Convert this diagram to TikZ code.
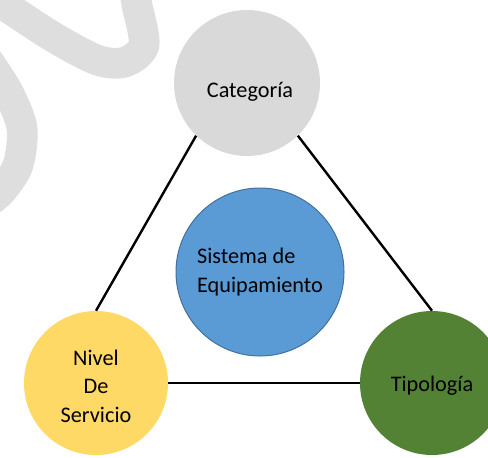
\documentclass[tikz,border=0pt]{standalone}
\usepackage{fontspec}
\setmainfont{Carlito}
\definecolor{catGray}{RGB}{217,217,217}
\definecolor{sisBlue}{RGB}{91,155,213}
\definecolor{sisBorder}{RGB}{65,113,156}
\definecolor{nivYellow}{RGB}{255,217,102}
\definecolor{tipGreen}{RGB}{84,130,53}
\definecolor{markGray}{RGB}{222,222,222}
\tikzset{
  ent/.style={circle, inner sep=0pt, align=center, text=black,
    font=\fontsize{16.7}{21.3}\selectfont},
  link/.style={line width=1.8pt, black},
  mark line/.style={markGray, line width=23pt},
}

\begin{document}
\begin{tikzpicture}[x=0.75pt, y=-0.75pt]
    \useasboundingbox (0,0) rectangle (488,457);
    \clip (0,0) rectangle (488,457);
    % watermark in the corner
    \draw[mark line] plot[smooth] coordinates {(-12,-6) (50,35) (97,60) (125,62) (144,45) (137,5) (134,-12)};
    \draw[mark line] plot[smooth] coordinates {(-14,58) (8,92) (22,128) (18,165) (2,190) (-12,202)};
    % circles
    \node[ent, fill=catGray, minimum size=109.5pt] (cat) at (247,83) {};
    \node[ent] (cattext) at (250,92) {Categoría};
    \node[ent, fill=sisBlue, draw=sisBorder, line width=0.75pt, minimum size=126pt, align=left] (sis) at (260,272) {Sistema de\\Equipamiento};
    \node[ent, fill=nivYellow, minimum size=108pt] (niv) at (96,383) {};
    \node[ent] (nivtext) at (96,386) {Nivel\\De\\Servicio};
    \node[ent, fill=tipGreen, minimum size=108pt] (tip) at (432,383) {};
    \node[ent] (tiptext) at (432,386) {Tipología};
    % links
    \draw[link] (cat.226) -- (niv.90);
    \draw[link] (cat.314) -- (tip.90);
    \draw[link] (niv.0) -- (tip.180);
\end{tikzpicture}
\end{document}
